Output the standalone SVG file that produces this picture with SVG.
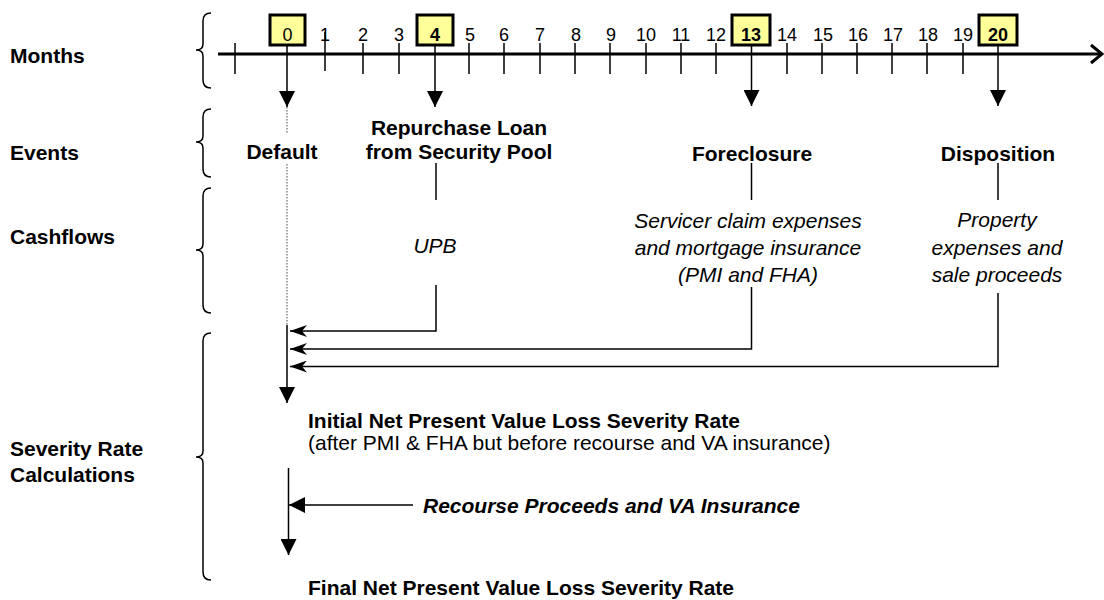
<svg xmlns="http://www.w3.org/2000/svg" width="1104" height="600" viewBox="0 0 1104 600">
<style>
text{font-family:"Liberation Sans",Arial,Helvetica,sans-serif;fill:#000}
.b{font-size:21px;font-weight:bold}
.r{font-size:21px}
.i{font-size:21px;font-style:italic}
.bi{font-size:21px;font-style:italic;font-weight:bold}
.n{font-size:18px;text-anchor:middle}
.nb{font-size:18px;font-weight:bold;text-anchor:middle}
.m{text-anchor:middle}
.box{fill:#FFFF99;stroke:#000;stroke-width:3}
.ln{stroke:#000;stroke-width:1.5;fill:none}
.tk{stroke:#000;stroke-width:1.5}
.br{stroke:#000;stroke-width:1.5;fill:none}
.dot{stroke:#666;stroke-width:1.2;stroke-dasharray:1.5 1.5;fill:none}
</style>
<defs>
<marker id="tri" viewBox="0 0 16 16" refX="16" refY="8" markerWidth="16" markerHeight="16" markerUnits="userSpaceOnUse" orient="auto">
<path d="M0,0 L16,8 L0,16 z" fill="#000"/>
</marker>
<marker id="barb" viewBox="0 0 17 12" refX="17" refY="6" markerWidth="17" markerHeight="12" markerUnits="userSpaceOnUse" orient="auto">
<path d="M0,0 L17,6 L0,12 L5,6 z" fill="#000"/>
</marker>
</defs>

<g id="row-labels">
<text class="b" x="10" y="63">Months</text>
<text class="b" x="10" y="160">Events</text>
<text class="b" x="10" y="244">Cashflows</text>
<text class="b" x="10" y="456">Severity Rate</text>
<text class="b" x="10" y="482">Calculations</text>
</g>

<g id="braces">
<path class="br" d="M211,13 Q203,13 203,21 L203,44 Q203,50 196,50 Q203,50 203,56 L203,80 Q203,88 211,88"/>
<path class="br" d="M211,109 Q203,109 203,117 L203,136 Q203,142 196,142 Q203,142 203,148 L203,169 Q203,177 211,177"/>
<path class="br" d="M211,188 Q203,188 203,196 L203,244 Q203,250 196,250 Q203,250 203,256 L203,305 Q203,313 211,313"/>
<path class="br" d="M211,333 Q203,333 203,341 L203,451 Q203,457 196,457 Q203,457 203,463 L203,572 Q203,580 211,580"/>
</g>

<g id="timeline">
<line x1="218" y1="54" x2="1101" y2="54" stroke="#000" stroke-width="3"/>
<polyline points="1091,45 1102,54 1091,63" fill="none" stroke="#000" stroke-width="3"/>
<g class="tk">
<line x1="235" y1="43" x2="235" y2="74"/>
<line x1="325" y1="32" x2="325" y2="71"/>
<line x1="363" y1="43" x2="363" y2="74"/>
<line x1="399" y1="43" x2="399" y2="74"/>
<line x1="469" y1="43" x2="469" y2="74"/>
<line x1="504" y1="43" x2="504" y2="74"/>
<line x1="540" y1="43" x2="540" y2="74"/>
<line x1="575" y1="43" x2="575" y2="74"/>
<line x1="610" y1="43" x2="610" y2="74"/>
<line x1="646" y1="43" x2="646" y2="74"/>
<line x1="681" y1="43" x2="681" y2="74"/>
<line x1="716" y1="43" x2="716" y2="74"/>
<line x1="787" y1="43" x2="787" y2="74"/>
<line x1="822" y1="43" x2="822" y2="74"/>
<line x1="857" y1="43" x2="857" y2="74"/>
<line x1="892" y1="43" x2="892" y2="74"/>
<line x1="927" y1="43" x2="927" y2="74"/>
<line x1="963" y1="43" x2="963" y2="74"/>
</g>
<text class="n" x="325" y="41">1</text>
<text class="n" x="363" y="41">2</text>
<text class="n" x="399" y="41">3</text>
<text class="n" x="470" y="41">5</text>
<text class="n" x="504" y="41">6</text>
<text class="n" x="540" y="41">7</text>
<text class="n" x="576" y="41">8</text>
<text class="n" x="611" y="41">9</text>
<text class="n" x="646" y="41">10</text>
<text class="n" x="681" y="41">11</text>
<text class="n" x="716" y="41">12</text>
<text class="n" x="787" y="41">14</text>
<text class="n" x="823" y="41">15</text>
<text class="n" x="858" y="41">16</text>
<text class="n" x="893" y="41">17</text>
<text class="n" x="928" y="41">18</text>
<text class="n" x="963" y="41">19</text>
</g>

<g id="month-0">
<rect class="box" x="270" y="15" width="35" height="30"/>
<text class="n" x="287.5" y="41">0</text>
</g>
<g id="month-4">
<rect class="box" x="417" y="15" width="36" height="30"/>
<text class="nb" x="435" y="41">4</text>
</g>
<g id="month-13">
<rect class="box" x="732" y="15" width="38" height="30"/>
<text class="nb" x="751" y="41">13</text>
</g>
<g id="month-20">
<rect class="box" x="979" y="15" width="38" height="30"/>
<text class="nb" x="998" y="41">20</text>
</g>

<g id="connectors">
<line class="ln" x1="287" y1="45" x2="287" y2="107" marker-end="url(#tri)"/>
<line class="ln" x1="435" y1="45" x2="435" y2="107" marker-end="url(#tri)"/>
<line class="ln" x1="751.5" y1="45" x2="751.5" y2="106" marker-end="url(#tri)"/>
<line class="ln" x1="998" y1="45" x2="998" y2="106" marker-end="url(#tri)"/>
<line class="dot" x1="287" y1="107" x2="287" y2="325"/>
<line class="ln" x1="436" y1="163" x2="436" y2="200"/>
<line class="ln" x1="751.5" y1="163" x2="751.5" y2="200"/>
<line class="ln" x1="998" y1="163" x2="998" y2="200"/>
<polyline class="ln" points="436,285 436,331 290,331" marker-end="url(#barb)"/>
<polyline class="ln" points="751.5,287 751.5,349 290,349" marker-end="url(#barb)"/>
<polyline class="ln" points="998,293 998,366.5 290,366.5" marker-end="url(#barb)"/>
<line class="ln" x1="287" y1="325" x2="287" y2="403" marker-end="url(#tri)"/>
<line class="ln" x1="288.5" y1="468" x2="288.5" y2="555" marker-end="url(#tri)"/>
<line class="ln" x1="413" y1="505" x2="289" y2="505" marker-end="url(#tri)"/>
</g>

<g id="event-default">
<rect x="245" y="133" width="74" height="30" fill="#fff"/>
<text class="b m" x="282" y="159">Default</text>
</g>
<g id="event-repurchase">
<text class="b m" x="459" y="135">Repurchase Loan</text>
<text class="b m" x="459" y="159">from Security Pool</text>
</g>
<g id="event-foreclosure">
<text class="b m" x="752" y="161">Foreclosure</text>
</g>
<g id="event-disposition">
<text class="b m" x="998" y="161">Disposition</text>
</g>

<g id="cash-upb">
<text class="i m" x="435" y="253">UPB</text>
</g>
<g id="cash-servicer">
<text class="i m" x="748" y="228">Servicer claim expenses</text>
<text class="i m" x="748" y="255">and mortgage insurance</text>
<text class="i m" x="748" y="282">(PMI and FHA)</text>
</g>
<g id="cash-property">
<text class="i m" x="997" y="227">Property</text>
<text class="i m" x="997" y="255">expenses and</text>
<text class="i m" x="997" y="282">sale proceeds</text>
</g>

<g id="initial-rate">
<text class="b" x="308" y="428">Initial Net Present Value Loss Severity Rate</text>
<text class="r" x="308" y="450">(after PMI &amp; FHA but before recourse and VA insurance)</text>
</g>
<g id="recourse">
<text class="bi" x="423" y="513">Recourse Proceeds and VA Insurance</text>
</g>
<g id="final-rate">
<text class="b" x="308" y="595">Final Net Present Value Loss Severity Rate</text>
</g>
</svg>
